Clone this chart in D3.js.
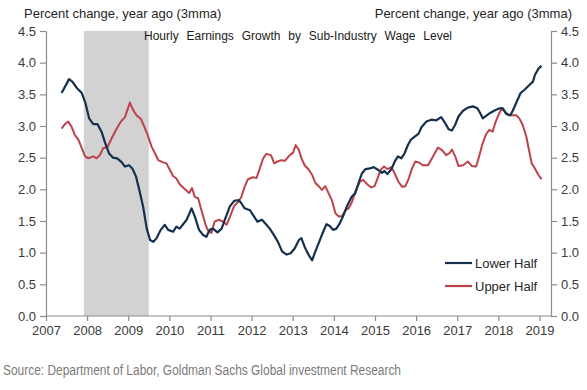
<!DOCTYPE html>
<html>
<head>
<meta charset="utf-8">
<script src="https://cdn.jsdelivr.net/npm/d3@7"></script>
<style>
  html, body { margin: 0; padding: 0; background: #ffffff; }
  svg { display: block; }
  text { font-family: "Liberation Sans", Arial, sans-serif; }
</style>
</head>
<body>
<svg id="chart" width="587" height="390"></svg>
<script>
// ---- Data (decimal year, percent change y/y, 3mma) ----
const lowerYears = [2007.38,2007.56,2007.64,2007.75,2007.87,2007.96,2008.05,2008.15,2008.25,2008.35,2008.43,2008.53,2008.63,2008.73,2008.84,2008.92,2009.02,2009.10,2009.19,2009.28,2009.36,2009.45,2009.53,2009.61,2009.69,2009.79,2009.89,2009.97,2010.09,2010.17,2010.25,2010.42,2010.54,2010.62,2010.72,2010.82,2010.90,2010.98,2011.06,2011.17,2011.27,2011.35,2011.47,2011.58,2011.69,2011.75,2011.83,2011.96,2012.04,2012.14,2012.25,2012.36,2012.44,2012.54,2012.64,2012.74,2012.85,2012.95,2013.05,2013.15,2013.21,2013.29,2013.39,2013.47,2013.55,2013.63,2013.74,2013.82,2013.90,2013.98,2014.06,2014.14,2014.22,2014.33,2014.43,2014.52,2014.60,2014.68,2014.77,2014.87,2014.97,2015.07,2015.17,2015.23,2015.30,2015.40,2015.48,2015.56,2015.64,2015.72,2015.80,2015.88,2015.96,2016.06,2016.13,2016.25,2016.37,2016.49,2016.61,2016.71,2016.79,2016.87,2016.95,2017.03,2017.14,2017.26,2017.38,2017.49,2017.57,2017.62,2017.70,2017.81,2017.92,2018.03,2018.11,2018.19,2018.29,2018.35,2018.43,2018.54,2018.65,2018.76,2018.84,2018.89,2018.98,2019.05];
const lowerValues = [3.52,3.74,3.70,3.60,3.52,3.36,3.12,3.03,3.03,2.91,2.75,2.57,2.50,2.49,2.43,2.36,2.38,2.33,2.20,1.96,1.73,1.38,1.20,1.17,1.23,1.36,1.44,1.36,1.33,1.41,1.38,1.52,1.70,1.57,1.36,1.28,1.25,1.36,1.38,1.32,1.38,1.52,1.73,1.82,1.83,1.78,1.70,1.67,1.59,1.49,1.52,1.44,1.38,1.28,1.17,1.02,0.97,0.99,1.07,1.20,1.23,1.09,0.96,0.88,1.02,1.15,1.33,1.45,1.42,1.36,1.38,1.46,1.57,1.75,1.88,1.94,2.10,2.25,2.32,2.33,2.35,2.31,2.26,2.29,2.24,2.32,2.44,2.52,2.49,2.57,2.70,2.79,2.83,2.88,2.98,3.07,3.10,3.09,3.14,3.04,2.95,2.93,3.02,3.15,3.24,3.29,3.31,3.28,3.19,3.12,3.16,3.21,3.25,3.28,3.28,3.19,3.17,3.24,3.36,3.52,3.58,3.65,3.70,3.81,3.91,3.95];

const upperYears = [2007.38,2007.46,2007.54,2007.62,2007.70,2007.79,2007.87,2007.95,2008.03,2008.15,2008.23,2008.31,2008.39,2008.50,2008.60,2008.72,2008.82,2008.92,2009.04,2009.12,2009.20,2009.31,2009.39,2009.47,2009.57,2009.65,2009.73,2009.83,2009.93,2010.01,2010.09,2010.17,2010.25,2010.38,2010.48,2010.55,2010.62,2010.70,2010.78,2010.88,2010.94,2011.02,2011.10,2011.20,2011.31,2011.39,2011.47,2011.57,2011.67,2011.75,2011.83,2011.91,2012.03,2012.12,2012.20,2012.28,2012.36,2012.47,2012.55,2012.63,2012.72,2012.81,2012.91,2013.01,2013.07,2013.15,2013.21,2013.29,2013.39,2013.47,2013.55,2013.63,2013.71,2013.79,2013.87,2013.95,2014.04,2014.12,2014.20,2014.28,2014.36,2014.44,2014.52,2014.63,2014.71,2014.81,2014.91,2014.99,2015.06,2015.14,2015.22,2015.30,2015.40,2015.48,2015.57,2015.66,2015.74,2015.82,2015.90,2015.98,2016.08,2016.16,2016.29,2016.41,2016.53,2016.63,2016.73,2016.81,2016.87,2016.95,2017.03,2017.14,2017.26,2017.35,2017.46,2017.54,2017.62,2017.70,2017.78,2017.86,2017.92,2018.00,2018.08,2018.17,2018.25,2018.33,2018.43,2018.51,2018.59,2018.68,2018.76,2018.81,2018.89,2018.97,2019.05];
const upperValues = [2.96,3.03,3.07,2.99,2.86,2.78,2.65,2.52,2.49,2.52,2.49,2.54,2.65,2.67,2.81,2.96,3.07,3.14,3.37,3.25,3.17,3.11,2.99,2.86,2.67,2.57,2.46,2.43,2.41,2.31,2.21,2.17,2.08,2.00,1.94,2.02,1.88,1.86,1.67,1.44,1.35,1.31,1.49,1.52,1.49,1.44,1.56,1.73,1.80,1.88,2.04,2.16,2.19,2.18,2.33,2.49,2.56,2.54,2.41,2.44,2.46,2.45,2.53,2.58,2.70,2.62,2.49,2.38,2.31,2.23,2.10,2.05,1.99,2.05,1.94,1.83,1.62,1.57,1.58,1.67,1.70,1.80,1.96,2.12,2.15,2.08,2.03,2.05,2.17,2.31,2.36,2.32,2.35,2.25,2.12,2.04,2.05,2.17,2.33,2.44,2.42,2.38,2.38,2.52,2.66,2.62,2.54,2.57,2.63,2.52,2.37,2.38,2.44,2.37,2.36,2.54,2.73,2.87,2.94,2.91,3.04,3.17,3.28,3.22,3.17,3.17,3.17,3.12,3.02,2.83,2.57,2.41,2.33,2.23,2.16];

const seriesNames = ["Lower Half", "Upper Half"];
const yearTicks = [2007,2008,2009,2010,2011,2012,2013,2014,2015,2016,2017,2018,2019];
const valueTicks = [0,0.5,1.0,1.5,2.0,2.5,3.0,3.5,4.0,4.5];
const recession = [2007.92, 2009.5];
const chartTitle = "Hourly Earnings Growth by Sub-Industry Wage Level";
const axisTitle = "Percent change, year ago (3mma)";
const sourceText = "Source: Department of Labor, Goldman Sachs Global investment Research";

// ---- Layout ----
const plotLeft = 46, plotRight = 551, plotTop = 31, plotBottom = 316;
const colors = ["#15304e", "#be424c"];

const svg = d3.select("#chart");

const x = d3.scaleLinear().domain([2007, 2019]).range([plotLeft, 539.5]);
const y = d3.scaleLinear().domain([0, 4.5]).range([plotBottom, plotTop]);

// Recession shading
svg.append("rect")
  .attr("x", x(recession[0]))
  .attr("y", y(4.5))
  .attr("width", x(recession[1]) - x(recession[0]))
  .attr("height", y(0) - y(4.5))
  .attr("fill", "#d2d2d2");

// Axes
const axisColor = "#8c8c8c";
const tickTextColor = "#3a3a3a";
function styleAxis(g) {
  g.selectAll("path").attr("stroke", axisColor).attr("stroke-width", 1.2);
  g.selectAll("line").attr("stroke", axisColor).attr("stroke-width", 1.2);
  g.selectAll("text").attr("fill", tickTextColor)
    .style("font-size", "13px")
    .style("font-family", '"Liberation Sans", Arial, sans-serif');
}

const leftAxis = svg.append("g")
  .attr("transform", `translate(${plotLeft},0)`)
  .call(d3.axisLeft(y).tickValues(valueTicks).tickFormat(d3.format(".1f")).tickSize(6).tickSizeOuter(0).tickPadding(4));
styleAxis(leftAxis);

const rightAxis = svg.append("g")
  .attr("transform", `translate(${plotRight},0)`)
  .call(d3.axisRight(y).tickValues(valueTicks).tickFormat(d3.format(".1f")).tickSize(6).tickSizeOuter(0).tickPadding(4));
styleAxis(rightAxis);

const bottomAxis = svg.append("g")
  .attr("transform", `translate(0,${plotBottom})`)
  .call(d3.axisBottom(x).tickValues(yearTicks).tickFormat(d3.format("d")).tickSize(5).tickSizeOuter(0).tickPadding(5));
styleAxis(bottomAxis);
// extend baseline to the right axis
bottomAxis.select("path.domain").attr("d", `M${plotLeft},0H${plotRight}`);

// Lines
const line = d3.line().x(d => x(d[0])).y(d => y(d[1])).curve(d3.curveLinear);
const lowerData = lowerYears.map((t, i) => [t, lowerValues[i]]);
const upperData = upperYears.map((t, i) => [t, upperValues[i]]);

svg.append("path").datum(upperData)
  .attr("d", line).attr("fill", "none")
  .attr("stroke", colors[1]).attr("stroke-width", 2).attr("stroke-linejoin", "round");
svg.append("path").datum(lowerData)
  .attr("d", line).attr("fill", "none")
  .attr("stroke", colors[0]).attr("stroke-width", 2.2).attr("stroke-linejoin", "round");

// Titles
svg.append("text").attr("x", 24).attr("y", 18)
  .style("font-size", "13px").attr("fill", "#262626").text(axisTitle);
svg.append("text").attr("x", 572).attr("y", 18).attr("text-anchor", "end")
  .style("font-size", "13px").attr("fill", "#262626").text(axisTitle);
svg.append("text").attr("x", 144).attr("y", 40)
  .style("font-size", "12px").style("word-spacing", "4.5px").attr("fill", "#1a1a1a").text(chartTitle);

// Legend
const legend = svg.append("g");
seriesNames.forEach((name, i) => {
  const ly = 263 + i * 23;
  legend.append("line").attr("x1", 445).attr("x2", 472).attr("y1", ly).attr("y2", ly)
    .attr("stroke", colors[i]).attr("stroke-width", 2.2);
  legend.append("text").attr("x", 475).attr("y", ly + 5)
    .style("font-size", "13px").attr("fill", "#262626").text(name);
});

// Source
svg.append("text").attr("x", 3).attr("y", 375)
  .style("font-size", "14px")
  .style("font-family", '"Liberation Sans Narrow", "Arial Narrow", "Liberation Sans", sans-serif')
  .attr("textLength", 398).attr("lengthAdjust", "spacingAndGlyphs")
  .attr("fill", "#7a7a7a").text(sourceText);
</script>
</body>
</html>
